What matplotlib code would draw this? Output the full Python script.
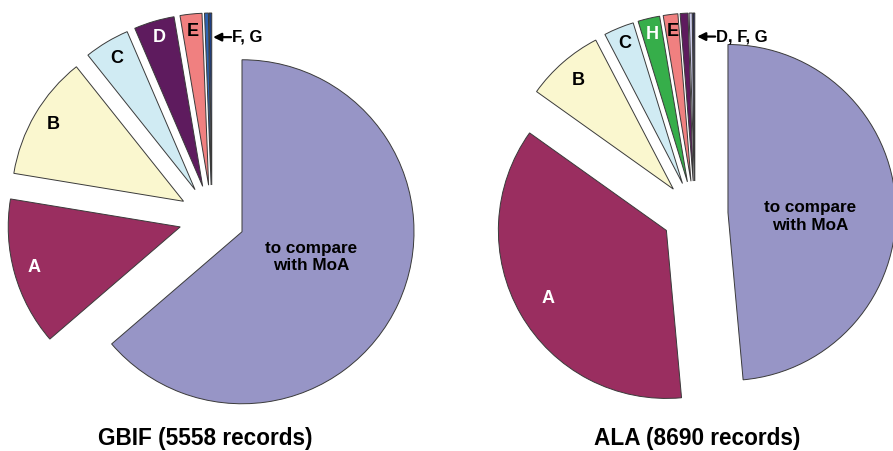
import numpy as np
import matplotlib.pyplot as plt

plt.rcParams["font.family"] = ["Liberation Sans", "DejaVu Sans"]

# GBIF records (left pie), clockwise from 12 o'clock
gbif_names = ["to compare\nwith MoA", "A", "B", "C", "D", "E", "F", "G"]
gbif_counts = [3540, 773, 650, 236, 211, 114, 20, 14]

# ALA records (right pie), clockwise from 12 o'clock
ala_names = ["to compare\nwith MoA", "A", "B", "C", "H", "E", "D", "F", "G"]
ala_counts = [4220, 3154, 652, 252, 182, 122, 65, 26, 17]

titles = ["GBIF (5558 records)", "ALA (8690 records)"]
gbif_pointer = "F, G"
ala_pointer = "D, F, G"

# colours
palette = {
    "to compare\nwith MoA": "#9795c6",
    "A": "#9a2e60",
    "B": "#faf7cf",
    "C": "#d0ebf3",
    "D": "#5e1b5e",
    "E": "#f08080",
    "H": "#36ae4a",
}
gbif_fg = ["#2f63b1", "#1e3f85"]
ala_fg = ["#c9c8e6", "#22224f"]
white_text = {"A", "D", "H"}

fig = plt.figure(figsize=(8.93, 4.51), dpi=100)
ax = fig.add_axes([0, 0, 1, 1])


def draw_pie(names, counts, extra_cols, center, radius, label_frac, main_turn,
             pointer, n_hidden):
    cols = [palette[n] for n in names[:len(names) - 2]] + extra_cols
    wedges, _ = ax.pie(
        counts,
        colors=cols,
        startangle=90,
        counterclock=False,
        explode=[33] * len(counts),
        radius=radius,
        center=center,
        wedgeprops=dict(edgecolor="#3a3a3a", linewidth=0.7),
    )
    shown = len(names) - n_hidden
    for i, (w, name) in enumerate(zip(wedges[:shown], names[:shown])):
        mid = (w.theta1 + w.theta2) / 2
        if i == 0:
            mid += main_turn
        mid = np.deg2rad(mid)
        r = label_frac[i] * w.r
        cx, cy = w.center
        ax.text(
            cx + r * np.cos(mid), cy + r * np.sin(mid), name,
            ha="center", va="center", fontsize=13 if i else 12.3,
            fontweight="bold", linespacing=1.2,
            color="white" if name in white_text else "black",
        )
    # arrow pointing at the tiny slices
    w = wedges[-2]
    mid = np.deg2rad((w.theta1 + w.theta2) / 2)
    cx, cy = w.center
    tip_x = cx + 0.86 * w.r * np.cos(mid) + 6
    tip_y = cy + 0.86 * w.r * np.sin(mid)
    ax.annotate(
        "", xy=(tip_x, tip_y), xytext=(tip_x + 18, tip_y),
        arrowprops=dict(arrowstyle="-|>", color="black", lw=1.6,
                        mutation_scale=12, shrinkA=0, shrinkB=0),
    )
    ax.text(tip_x + 19, tip_y, pointer, ha="left", va="center",
            fontsize=12, fontweight="bold")


draw_pie(gbif_names, gbif_counts, gbif_fg, (212, 233), 172,
         [0.43, 0.88, 0.88, 0.89, 0.9, 0.9], 4.7, gbif_pointer, 2)
draw_pie(ala_names, ala_counts, ala_fg, (695, 237), 168,
         [0.49, 0.81, 0.86, 0.9, 0.9, 0.9], -5.5, ala_pointer, 3)

ax.text(205, 13, titles[0], ha="center", va="center", fontsize=16.3, fontweight="bold")
ax.text(697, 13, titles[1], ha="center", va="center", fontsize=16.3, fontweight="bold")

ax.set_xlim(0, 893)
ax.set_ylim(0, 451)
ax.set_aspect("equal")
ax.axis("off")

fig.savefig("out.png", dpi=100, facecolor="white")
